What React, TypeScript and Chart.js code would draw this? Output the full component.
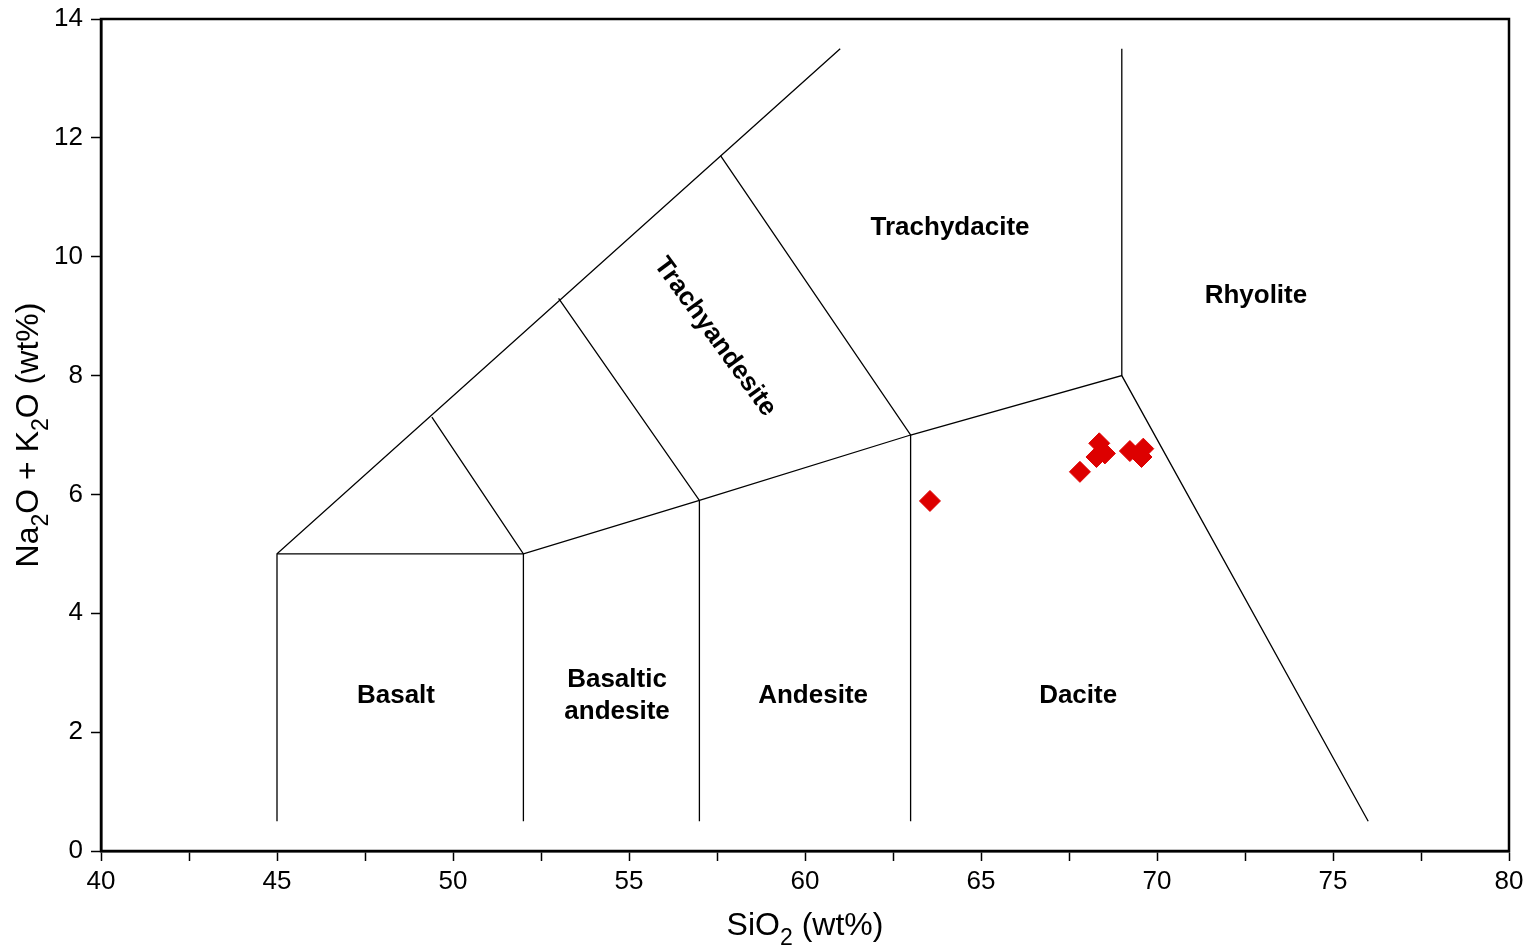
import React, { useEffect, useRef } from "react";
import { Chart, registerables } from "chart.js";

Chart.register(...registerables);

// Sample data (SiO2 vs total alkali)
const sio2 = [63.55, 67.81, 68.36, 68.28, 68.52, 69.23, 69.61, 69.56];
const totalAlkali = [5.89, 6.38, 6.86, 6.63, 6.69, 6.73, 6.77, 6.63];

// TAS field boundaries (polylines in data coordinates)
const boundaryA: [number, number][] = [[45, 0.5], [45, 5], [61, 13.5]];
const boundaryB: [number, number][] = [[45, 5], [52, 5], [57, 5.9], [63, 7], [69, 8], [76, 0.5]];
const boundaryC: [number, number][] = [[52, 0.5], [52, 5], [49.4, 7.3]];
const boundaryD: [number, number][] = [[57, 0.5], [57, 5.9], [53, 9.3]];
const boundaryE: [number, number][] = [[63, 0.5], [63, 7], [57.6, 11.7]];
const boundaryF: [number, number][] = [[69, 8], [69, 13.5]];
const boundaries = [boundaryA, boundaryB, boundaryC, boundaryD, boundaryE, boundaryF];

// Field names and label anchors (data coordinates)
const fieldNames = ["Basalt", "Basaltic\nandesite", "Andesite", "Dacite", "Trachydacite", "Rhyolite", "Trachyandesite"];
const fieldX = [48.38, 54.66, 60.23, 67.76, 64.12, 72.81, 57.44];
const fieldY = [2.61, 2.61, 2.61, 2.61, 10.48, 9.34, 8.65];
const fieldAngle = [0, 0, 0, 0, 0, 0, 54];

const xMin = 40, xMax = 80, xStep = 2.5;
const yMin = 0, yMax = 14, yStep = 2;

const FONT = "'Liberation Sans', Arial, Helvetica, sans-serif";

function drawSubText(ctx: CanvasRenderingContext2D, parts: [string, boolean][], size: number) {
  const subSize = size * 0.72;
  let w = 0;
  for (const [t, sub] of parts) {
    ctx.font = `${sub ? subSize : size}px ${FONT}`;
    w += ctx.measureText(t).width;
  }
  let x = -w / 2;
  for (const [t, sub] of parts) {
    ctx.font = `${sub ? subSize : size}px ${FONT}`;
    ctx.fillText(t, x, sub ? size * 0.32 : 0);
    x += ctx.measureText(t).width;
  }
}

const overlayPlugin = {
  id: "overlay",
  afterDraw(chart: any) {
    const { ctx, chartArea, scales } = chart;
    const xs = scales.x, ys = scales.y;
    ctx.save();
    ctx.strokeStyle = "#000";
    ctx.lineWidth = 2.5;
    ctx.strokeRect(chartArea.left, chartArea.top, chartArea.right - chartArea.left, chartArea.bottom - chartArea.top);

    ctx.fillStyle = "#000";
    ctx.textBaseline = "middle";
    for (let i = 0; i < fieldNames.length; i++) {
      const px = xs.getPixelForValue(fieldX[i]);
      const py = ys.getPixelForValue(fieldY[i]);
      ctx.save();
      ctx.translate(px, py);
      ctx.rotate((fieldAngle[i] * Math.PI) / 180);
      ctx.font = `bold 26px ${FONT}`;
      ctx.textAlign = "center";
      const lines = fieldNames[i].split("\n");
      const lh = 32;
      lines.forEach((ln, k) => {
        ctx.fillText(ln, 0, (k - (lines.length - 1) / 2) * lh);
      });
      ctx.restore();
    }

    ctx.textAlign = "left";
    ctx.textBaseline = "alphabetic";
    ctx.save();
    ctx.translate((chartArea.left + chartArea.right) / 2, 935);
    drawSubText(ctx, [["SiO", false], ["2", true], [" (wt%)", false]], 32);
    ctx.restore();

    ctx.save();
    ctx.translate(38, (chartArea.top + chartArea.bottom) / 2);
    ctx.rotate(-Math.PI / 2);
    drawSubText(ctx, [["Na", false], ["2", true], ["O + K", false], ["2", true], ["O (wt%)", false]], 32);
    ctx.restore();

    ctx.restore();
  },
};

export default function App() {
  const ref = useRef<HTMLCanvasElement>(null);
  useEffect(() => {
    if (!ref.current) return;
    const lineSets = boundaries.map((b) => ({
      type: "scatter" as const,
      data: b.map(([x, y]) => ({ x, y })),
      showLine: true,
      borderColor: "#000",
      borderWidth: 1.3,
      pointRadius: 0,
      fill: false,
      order: 2,
    }));
    const chart = new Chart(ref.current, {
      type: "scatter",
      data: {
        datasets: [
          {
            data: sio2.map((x, i) => ({ x, y: totalAlkali[i] })),
            pointStyle: "rectRot",
            pointRadius: 10.5,
            backgroundColor: "rgb(221,0,0)",
            borderColor: "rgb(221,0,0)",
            borderWidth: 1,
            order: 0,
          } as any,
          ...lineSets,
        ],
      },
      options: {
        animation: false,
        responsive: true,
        maintainAspectRatio: false,
        layout: { padding: { top: 19, right: 19, left: 0, bottom: 0 } },
        plugins: { legend: { display: false }, tooltip: { enabled: false } },
        scales: {
          x: {
            type: "linear",
            min: xMin,
            max: xMax,
            afterFit: (s: any) => { s.height = 97; s.paddingLeft = 0; s.paddingRight = 0; },
            ticks: {
              stepSize: xStep,
              autoSkip: false,
              maxRotation: 0,
              padding: 5,
              color: "#000",
              font: { family: FONT, size: 26 },
              callback: (v: any) => (Number(v) % 5 === 0 ? String(v) : ""),
            },
            grid: { drawOnChartArea: false, drawTicks: true, tickLength: 10, tickWidth: 1.5, tickColor: "#000" },
            border: { display: true, color: "#000", width: 2.5 },
          },
          y: {
            type: "linear",
            min: yMin,
            max: yMax,
            afterFit: (s: any) => { s.width = 101; s.paddingTop = 0; s.paddingBottom = 0; },
            ticks: {
              stepSize: yStep,
              padding: 8,
              color: "#000",
              font: { family: FONT, size: 26 },
            },
            grid: { drawOnChartArea: false, drawTicks: true, tickLength: 10, tickWidth: 1.5, tickColor: "#000" },
            border: { display: true, color: "#000", width: 2.5 },
          },
        },
      },
      plugins: [overlayPlugin],
    });
    return () => chart.destroy();
  }, []);
  return (
    <div style={{ position: "fixed", left: 0, top: 0, width: 1528, height: 948, background: "#fff" }}>
      <canvas ref={ref} />
    </div>
  );
}
